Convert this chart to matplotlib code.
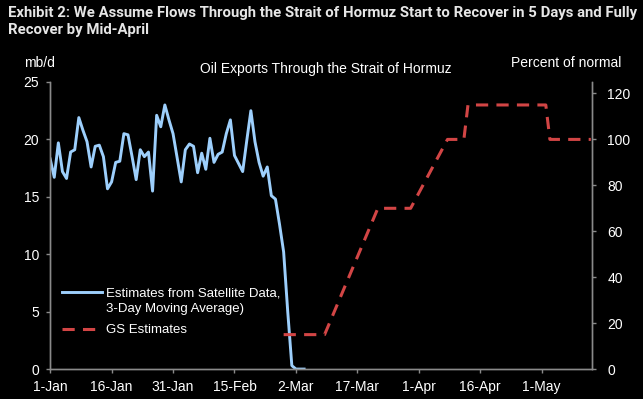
import matplotlib.pyplot as plt
import pandas as pd

title = ("Exhibit 2: We Assume Flows Through the Strait of Hormuz Start to Recover in 5 Days and Fully\n"
         "Recover by Mid-April")
chart_title = "Oil Exports Through the Strait of Hormuz"
left_unit = "mb/d"
right_unit = "Percent of normal"
sat_label = "Estimates from Satellite Data,\n3-Day Moving Average)"
gs_label = "GS Estimates"

# satellite estimates, mb/d, daily from 1-Jan
sat_start = "2026-01-01"
sat_values = [18.3, 16.7, 19.7, 17.2, 16.6, 18.9, 19.1, 21.9, 20.8, 19.8,
              17.6, 19.4, 19.5, 18.5, 15.7, 16.3, 18.0, 18.1, 20.5, 20.4,
              18.5, 16.5, 19.1, 18.5, 18.9, 15.5, 22.1, 21.1, 23.0, 21.7,
              20.5, 18.4, 16.3, 19.1, 19.6, 19.4, 17.1, 18.8, 17.4, 20.1,
              18.0, 18.7, 18.9, 20.5, 21.7, 18.6, 17.9, 17.2, 19.9, 22.5,
              19.8, 18.0, 16.8, 17.6, 15.1, 14.8, 12.6, 10.2, 5.0, 0.3,
              0.0, 0.0, 0.0]

# GS estimates, percent of normal
gs_dates = ["2026-02-27", "2026-03-09", "2026-03-22", "2026-03-30", "2026-04-08",
            "2026-04-12", "2026-04-13", "2026-05-02", "2026-05-03", "2026-05-13"]
gs_values = [15, 15, 70, 70, 100, 100, 115, 115, 100, 100]

tick_dates = ["2026-01-01", "2026-01-16", "2026-01-31", "2026-02-15", "2026-03-02",
              "2026-03-17", "2026-04-01", "2026-04-16", "2026-05-01"]
tick_labels = ["1-Jan", "16-Jan", "31-Jan", "15-Feb", "2-Mar",
               "17-Mar", "1-Apr", "16-Apr", "1-May"]

blue = "#9dcffc"
red = "#d24545"
grey = "#8a8a8a"

plt.rcParams["font.family"] = ["Liberation Sans", "DejaVu Sans"]

fig = plt.figure(figsize=(6.43, 3.99), dpi=100, facecolor="black")
ax = fig.add_axes([0.078, 0.075, 0.8425, 0.7195])
ax.set_facecolor("black")
ax2 = ax.twinx()

sat_dates = pd.date_range(sat_start, periods=len(sat_values), freq="D")
l1, = ax.plot(sat_dates, sat_values, color=blue, lw=2.1, label=sat_label)
l2, = ax2.plot(pd.to_datetime(gs_dates), gs_values, color=red, lw=2.2,
               linestyle=(0, (4, 2.7)), label=gs_label)

ax.set_ylim(0, 25)
ax.set_yticks(range(0, 26, 5))
ax2.set_ylim(0, 125)
ax2.set_yticks(range(0, 121, 20))
ax.set_xlim(pd.Timestamp("2026-01-01"), pd.Timestamp("2026-05-13 06:00"))
ax.set_xticks(pd.to_datetime(tick_dates))
ax.set_xticklabels(tick_labels)

for a in (ax, ax2):
    a.spines["top"].set_visible(False)
    for s in ("left", "right", "bottom"):
        a.spines[s].set_color(grey)
        a.spines[s].set_linewidth(1.0)
    a.tick_params(colors=grey, labelcolor="white", labelsize=10, length=3, width=1)
ax.tick_params(axis="y", pad=5)
ax2.tick_params(axis="y", pad=8)
ax.tick_params(axis="x", pad=5)

t = fig.text(0.012, 0.985, title, color="#e6e6e6", fontsize=11, fontweight="bold",
             va="top", ha="left", linespacing=1.25, family=["Roboto", "DejaVu Sans"])
fig.text(0.037, 0.843, left_unit, color="white", fontsize=10, va="center")
fig.text(0.795, 0.843, right_unit, color="white", fontsize=10, va="center")
fig.text(0.507, 0.827, chart_title, color="white", fontsize=10, va="center", ha="center")

# fit the title's first line to the width it has in the source
fig.canvas.draw()
w = t.get_window_extent(fig.canvas.get_renderer()).width
t.set_fontsize(11 * 630 / w)

leg = ax2.legend([l1, l2], [sat_label, gs_label], loc="lower left",
                 bbox_to_anchor=(0.0, 0.073), frameon=False, fontsize=9.5,
                 handlelength=3.0, handletextpad=0.3, labelspacing=0.7)
for tx in leg.get_texts():
    tx.set_color("white")
    tx.set_linespacing(1.35)
# line up the blue key with the first line of its two-line label
key = leg.get_lines()[0]
key.set_ydata(key.get_ydata() + 6.5)

fig.savefig("out.png", dpi=100, facecolor="black")
